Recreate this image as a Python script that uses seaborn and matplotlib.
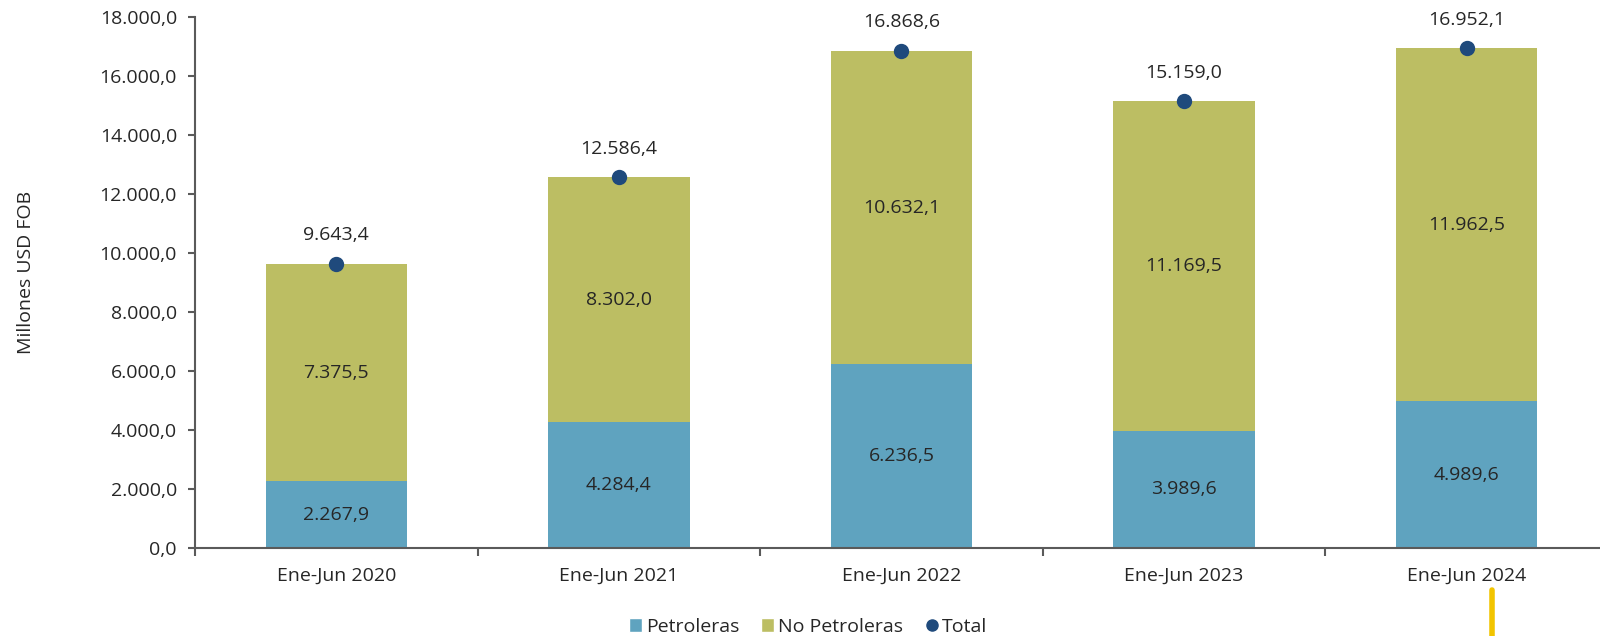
import matplotlib
matplotlib.use("Agg")
import matplotlib.pyplot as plt
import seaborn as sns
import numpy as np
import pandas as pd
from matplotlib.ticker import FuncFormatter, FixedLocator
from matplotlib.lines import Line2D
from matplotlib.patches import Patch

# Exportaciones enero-junio (millones USD FOB)
periodos = ["Ene-Jun 2020", "Ene-Jun 2021", "Ene-Jun 2022", "Ene-Jun 2023", "Ene-Jun 2024"]
petroleras = [2267.9, 4284.4, 6236.5, 3989.6, 4989.6]
no_petroleras = [7375.5, 8302.0, 10632.1, 11169.5, 11962.5]
total = [9643.4, 12586.4, 16868.6, 15159.0, 16952.1]
y_ticks = [0, 2000, 4000, 6000, 8000, 10000, 12000, 14000, 16000, 18000]

C_PET = "#5FA3BF"
C_NOPET = "#BCBE63"
C_TOT = "#1F4A7C"
C_TXT = "#262626"
C_AX = "#5A5A5A"
FS = 14

sns.set_theme(style="white")
plt.rcParams["font.family"] = ["Open Sans", "DejaVu Sans"]


def es_num(v, pos=None):
    s = f"{v:,.1f}"
    return s.replace(",", "X").replace(".", ",").replace("X", ".")


df = pd.DataFrame({"periodo": periodos, "pet": petroleras,
                   "nopet": no_petroleras, "total": total})
df["apilado"] = df["pet"] + df["nopet"]

fig = plt.figure(figsize=(16, 6.36), dpi=100)
ax = fig.add_axes([0.1219, 0.138, 0.883, 0.8345])

sns.barplot(data=df, x="periodo", y="apilado", color=C_NOPET, width=0.5,
            saturation=1, ax=ax, linewidth=0)
sns.barplot(data=df, x="periodo", y="pet", color=C_PET, width=0.5,
            saturation=1, ax=ax, linewidth=0)
sns.pointplot(data=df, x="periodo", y="total", color=C_TOT, linestyle="none",
              markers="o", markersize=9, ax=ax, zorder=5)

for i, row in df.iterrows():
    ax.text(i, row["pet"] / 2, es_num(row["pet"]), ha="center", va="center",
            fontsize=FS, color=C_TXT)
    ax.text(i, row["pet"] + row["nopet"] / 2, es_num(row["nopet"]),
            ha="center", va="center", fontsize=FS, color=C_TXT)
    ax.annotate(es_num(row["total"]), (i, row["total"]), xytext=(0, 14),
                textcoords="offset points", ha="center", va="bottom",
                fontsize=FS, color=C_TXT)

ax.set_ylim(0, 18000)
ax.set_xlim(-0.5, 4.5)
ax.set_yticks(y_ticks)
ax.yaxis.set_major_formatter(FuncFormatter(es_num))
ax.xaxis.set_minor_locator(FixedLocator(np.arange(-0.5, 5.0, 1.0)))
ax.tick_params(axis="x", which="major", length=0, pad=13, labelsize=FS,
               labelcolor=C_TXT)
ax.tick_params(axis="x", which="minor", bottom=True, length=6, width=1.5,
               color=C_AX)
ax.tick_params(axis="y", left=True, length=5, width=1.5, color=C_AX,
               labelsize=FS, labelcolor=C_TXT, pad=8)
ax.set_xlabel("")
ax.set_ylabel("Millones USD FOB", fontsize=FS, color=C_TXT)
ax.yaxis.set_label_coords(-0.113, 0.52)

for s in ["top", "right"]:
    ax.spines[s].set_visible(False)
for s in ["left", "bottom"]:
    ax.spines[s].set_color(C_AX)
    ax.spines[s].set_linewidth(1.5)

handles = [Patch(facecolor=C_PET, label="Petroleras"),
           Patch(facecolor=C_NOPET, label="No Petroleras"),
           Line2D([], [], marker="o", linestyle="none", color=C_TOT,
                  markersize=8, label="Total")]
fig.legend(handles=handles, loc="center", bbox_to_anchor=(0.505, 0.014),
           ncol=3, frameon=False, fontsize=FS, handlelength=0.7,
           handleheight=0.7, handletextpad=0.2, columnspacing=1.1,
           labelcolor=C_TXT)

# Barra decorativa inferior derecha
fig.add_artist(Line2D([0.9325, 0.9325], [0.0, 0.073], color="#F2C400",
                      linewidth=4, transform=fig.transFigure))

fig.savefig("out.png", dpi=100)
